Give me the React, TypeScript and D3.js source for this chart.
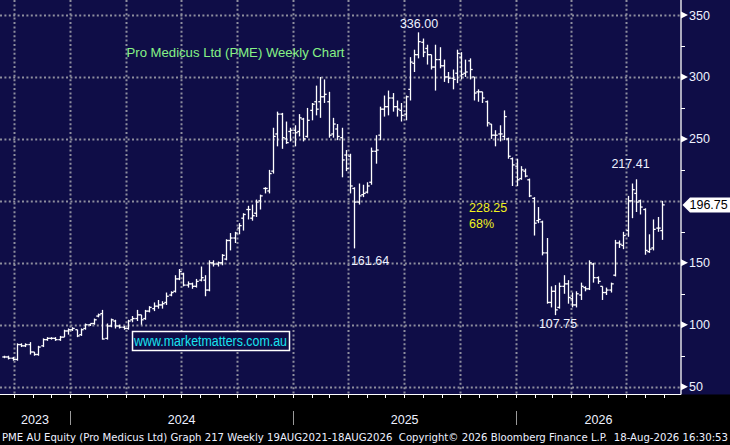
import * as d3 from "d3";

// PME weekly OHLC, Bloomberg style. One bar per week, first bar 15 Sep 2023.
const firstWeek = new Date(2023, 8, 15);

const opens = [
  74, 74, 73, 72, 84, 83, 84, 78, 76, 83, 88, 89, 89, 88, 90, 95, 96, 96, 92, 97,
  100, 101, 107, 109, 89, 99, 103, 99, 98, 97, 104, 105, 108, 105, 111, 113, 115, 116, 118, 124,
  127, 137, 141, 132, 133, 131, 136, 136, 128, 150, 149, 150, 153, 168, 170, 178, 186, 193, 186, 190,
  200, 210, 208, 224, 254, 270, 250, 256, 257, 256, 266, 252, 273, 280, 280, 284, 280, 254, 258, 251,
  237, 236, 210, 199, 205, 207, 215, 240, 253, 274, 276, 283, 276, 273, 270, 290, 311, 318, 328, 323,
  318, 308, 314, 309, 300, 299, 303, 316, 303, 313, 300, 288, 288, 280, 262, 253, 254, 252, 250, 234,
  228, 218, 224, 217, 202, 184, 183, 158, 118, 127, 114, 131, 133, 121, 116, 124, 130, 129, 149, 138,
  131, 126, 128, 140, 166, 164, 176, 200, 206, 200, 193, 159, 162, 178, 176,
];
const highs = [
  75, 75, 74, 85, 85, 85, 86, 78, 83, 89, 90, 90, 90, 91, 96, 97, 98, 96, 97, 101,
  101, 105, 109, 112, 101, 105, 104, 100, 99, 104, 107, 112, 108, 112, 115, 118, 120, 119, 126, 127,
  140, 145, 142, 135, 134, 137, 147, 140, 152, 152, 151, 157, 169, 174, 175, 182, 190, 196, 197, 201,
  205, 211, 225, 259, 272, 271, 264, 259, 261, 270, 267, 275, 279, 293, 300, 298, 288, 267, 262, 259,
  241, 238, 211, 214, 213, 215, 243, 253, 276, 285, 289, 287, 281, 279, 285, 316, 322, 336, 331, 326,
  318, 326, 324, 314, 304, 306, 322, 320, 314, 315, 300, 290, 288, 281, 262, 257, 261, 273, 251, 235,
  234, 228, 226, 218, 203, 195, 184, 170, 131, 132, 134, 140, 136, 126, 127, 134, 131, 152, 150, 139,
  131, 130, 134, 168.5, 168, 175, 204, 214, 217.41, 201, 194, 173, 185, 187, 200,
];
const lows = [
  73, 72, 71, 71, 82, 82, 76, 75, 75, 82, 87, 88, 87, 87, 90, 92, 95, 90, 91, 96,
  99, 100, 106, 88, 88, 98, 97, 97, 96, 96, 102, 103, 100, 104, 110, 111, 113, 113, 116, 123,
  126, 136, 131, 130, 129, 130, 135, 123, 127, 147, 147, 148, 152, 160, 166, 173, 176, 185, 184, 187,
  193, 206, 206, 222, 244, 242, 246, 248, 244, 252, 248, 251, 265, 269, 267, 279, 251, 251, 249, 219,
  224, 206, 161.64, 197, 203, 206, 213, 230, 249, 268, 269, 272, 268, 264, 265, 281, 304, 315, 316, 310,
  306, 289, 307, 296, 295, 290, 295, 298, 300, 298, 281, 280, 279, 260, 250, 244, 248, 249, 234, 212,
  212, 217, 219, 203, 172, 182, 156, 117, 114, 107.75, 113, 125, 117, 114, 114, 120, 127, 128, 134, 133,
  120, 124, 126, 139, 162, 161, 171, 186, 191, 189, 156.5, 158, 160, 175, 168.5,
];
const closes = [
  74, 73, 72, 84, 83, 84, 78, 76, 82, 88, 89, 89, 88, 90, 95, 96, 97, 91, 96, 100,
  101, 104, 108, 88.5, 99, 104, 99, 98, 97, 103, 105, 108, 104, 111, 114, 115, 116, 117, 123, 126,
  137, 143, 132, 133, 131, 135, 138, 128, 150, 149, 150, 156, 168, 170, 174, 180, 189, 193, 188, 199,
  204, 210, 222, 252, 270, 251, 247, 257, 255, 267, 250, 265, 278, 274, 284, 286, 253, 262, 252, 233,
  226, 212, 199, 204, 206, 212, 240, 241, 274, 276, 283, 276, 274, 269, 284, 312, 318, 328.5, 320, 318,
  308, 314, 309, 300, 299, 298, 319, 302, 304, 306, 287, 288, 283, 263, 253, 253, 254, 268, 236, 229,
  217, 225, 220, 204, 182, 185, 158, 118, 127, 112, 131, 133, 122, 116, 125, 131, 129, 150, 138, 135,
  126, 128, 133, 166, 165, 172, 200, 209, 199, 195, 160, 161, 177, 178, 196.75,
];

const yTicks = [50, 100, 150, 200, 250, 300, 350];
const yMinor = [75, 125, 175, 225, 275, 325];
const years = [2023, 2024, 2025, 2026];

const title = "Pro Medicus Ltd (PME) Weekly Chart";
const watermark = "www.marketmatters.com.au";
const footer =
  "PME AU Equity (Pro Medicus Ltd) Graph 217 Weekly 19AUG2021-18AUG2026  Copyright\u00A9 2026 Bloomberg Finance L.P.  18-Aug-2026 16:30:53";

const W = 730;
const H = 445;
const PR = 681; // right axis line
const PB = 394.5; // bottom of plot
const BG = "#0f0d47";
const GRID = "#8e8e9e";
const INK = "#eef1ff";
const FONT = "'Liberation Sans', Arial, sans-serif";

const dates = closes.map((_, i) => d3.timeDay.offset(firstWeek, 7 * i));
const x = d3.scaleTime().domain([new Date(2024, 0, 1), new Date(2026, 0, 1)]).range([70, 516]);
const y = d3.scaleLinear().domain([50, 350]).range([386.7, 15]);

const quarters = d3.timeMonth.every(3)!.range(new Date(2023, 6, 1), new Date(2026, 9, 1)).filter((d) => x(d) > 0 && x(d) < PR);
const months = d3.timeMonth.range(new Date(2023, 6, 1), new Date(2026, 9, 1)).filter((d) => x(d) > 0 && x(d) < PR - 4);
const last = closes.length - 1;

function px(i: number) {
  return Math.round(x(dates[i])) + 0.5;
}

export default function App() {
  const hiIdx = d3.maxIndex(highs);
  const lo24 = d3.minIndex(lows.slice(70, 100)) + 70;
  const loIdx = d3.minIndex(lows.slice(120)) + 120;
  const hi26 = d3.maxIndex(highs.slice(140)) + 140;
  const drop = highs[hiIdx] - lows[loIdx];
  const pct = Math.round((drop / highs[hiIdx]) * 100);
  const lastY = y(closes[last]);

  const yearEdges = [0, ...years.slice(1).map((yr) => x(new Date(yr, 0, 1))), PR];

  return (
    <div style={{ position: "fixed", left: 0, top: 0 }}>
      <svg width={W} height={H} viewBox={`0 0 ${W} ${H}`} style={{ display: "block", background: "#000" }}>
        <rect x={0} y={0} width={W} height={PB} fill={BG} />

        {/* grid */}
        {yTicks.map((t) => (
          <line key={"h" + t} x1={0} x2={PR} y1={Math.round(y(t)) + 0.5} y2={Math.round(y(t)) + 0.5} stroke={GRID} strokeWidth={2} strokeDasharray="2 2.4" />
        ))}
        {quarters.map((d) => (
          <line key={"v" + +d} x1={Math.round(x(d)) + 0.5} x2={Math.round(x(d)) + 0.5} y1={0} y2={PB} stroke={GRID} strokeWidth={2} strokeDasharray="2 2.4" />
        ))}

        {/* OHLC bars */}
        <g stroke="#ffffff" strokeWidth={1.3} fill="none">
          {closes.map((c, i) => {
            const cx = px(i);
            return (
              <g key={i}>
                <line x1={cx} x2={cx} y1={y(highs[i])} y2={y(lows[i])} />
                <line x1={cx - 2.2} x2={cx} y1={y(opens[i])} y2={y(opens[i])} />
                <line x1={cx} x2={cx + 2.2} y1={y(c)} y2={y(c)} />
              </g>
            );
          })}
        </g>

        {/* title and watermark */}
        <text x={126.5} y={56.5} fontFamily={FONT} fontSize={13} fill="#86f286" textLength={218} lengthAdjust="spacingAndGlyphs">
          {title}
        </text>
        <rect x={132.5} y={331.5} width={157} height={19} fill={BG} stroke="#ffffff" strokeWidth={1.5} />
        <text x={134} y={346} fontFamily={FONT} fontSize={14} fill="#19e3f0" textLength={153} lengthAdjust="spacingAndGlyphs">
          {watermark}
        </text>

        {/* annotations */}
        <g fontFamily={FONT} fontSize={12.5} fill={INK} textAnchor="middle">
          <text x={px(hiIdx) + 0.5} y={y(highs[hiIdx]) - 4.5}>{highs[hiIdx].toFixed(2)}</text>
          <text x={px(lo24) + 15.5} y={y(lows[lo24]) + 16.5}>{lows[lo24].toFixed(2)}</text>
          <text x={px(hi26) - 6} y={y(highs[hi26]) - 11.5}>{highs[hi26].toFixed(2)}</text>
          <text x={px(loIdx) + 2.5} y={y(lows[loIdx]) + 12.8}>{lows[loIdx].toFixed(2)}</text>
        </g>
        <g fontFamily={FONT} fontSize={12.5} fill="#f2f21e">
          <text x={469} y={211.5}>{drop.toFixed(2)}</text>
          <text x={469} y={227.5}>{pct}%</text>
        </g>

        {/* right axis */}
        <line x1={PR} x2={PR} y1={0} y2={PB} stroke="#ffffff" strokeWidth={1.3} />
        {yMinor.map((t) => (
          <line key={"m" + t} x1={PR} x2={PR + 4} y1={Math.round(y(t)) + 0.5} y2={Math.round(y(t)) + 0.5} stroke="#ffffff" strokeWidth={1} />
        ))}
        {yTicks
          .filter((t) => Math.abs(y(t) - lastY) > 12)
          .map((t) => (
            <g key={"t" + t}>
              <path d={`M${PR},${y(t) - 3.5} L${PR + 7},${y(t)} L${PR},${y(t) + 3.5} Z`} fill="#ffffff" />
              <text x={689} y={y(t) + 4.5} fontFamily={FONT} fontSize={12.5} fill={INK}>
                {t}
              </text>
            </g>
          ))}

        {/* last price flag */}
        <path d={`M${PR + 1.5},${lastY} L${690},${lastY - 7.5} L${W},${lastY - 7.5} L${W},${lastY + 7.5} L${690},${lastY + 7.5} Z`} fill="#ffffff" />
        <text x={689.5} y={lastY + 4.6} fontFamily={FONT} fontSize={12.5} fill="#000000">
          {closes[last].toFixed(2)}
        </text>

        {/* time axis */}
        <line x1={0} x2={PR} y1={PB} y2={PB} stroke="#ffffff" strokeWidth={1.2} />
        {months.map((d) => (
          <line key={"mt" + +d} x1={Math.round(x(d)) + 0.5} x2={Math.round(x(d)) + 0.5} y1={PB} y2={PB + 3.5} stroke="#ffffff" strokeWidth={1} />
        ))}
        {years.slice(1).map((yr) => (
          <line key={"ys" + yr} x1={Math.round(x(new Date(yr, 0, 1))) + 0.5} x2={Math.round(x(new Date(yr, 0, 1))) + 0.5} y1={411} y2={425} stroke="#9a9a9a" strokeWidth={1} />
        ))}
        {years.map((yr, i) => (
          <text key={"yl" + yr} x={(yearEdges[i] + yearEdges[i + 1]) / 2} y={424} textAnchor="middle" fontFamily={FONT} fontSize={12.5} fill={INK}>
            {yr}
          </text>
        ))}
        <text
          x={2}
          y={441}
          fontFamily="'DejaVu Sans Condensed', 'Liberation Sans Narrow', sans-serif"
          fontSize={11}
          fill={INK}
          textLength={726}
          lengthAdjust="spacingAndGlyphs"
          style={{ whiteSpace: "pre" }}
        >
          {footer}
        </text>
      </svg>
    </div>
  );
}
